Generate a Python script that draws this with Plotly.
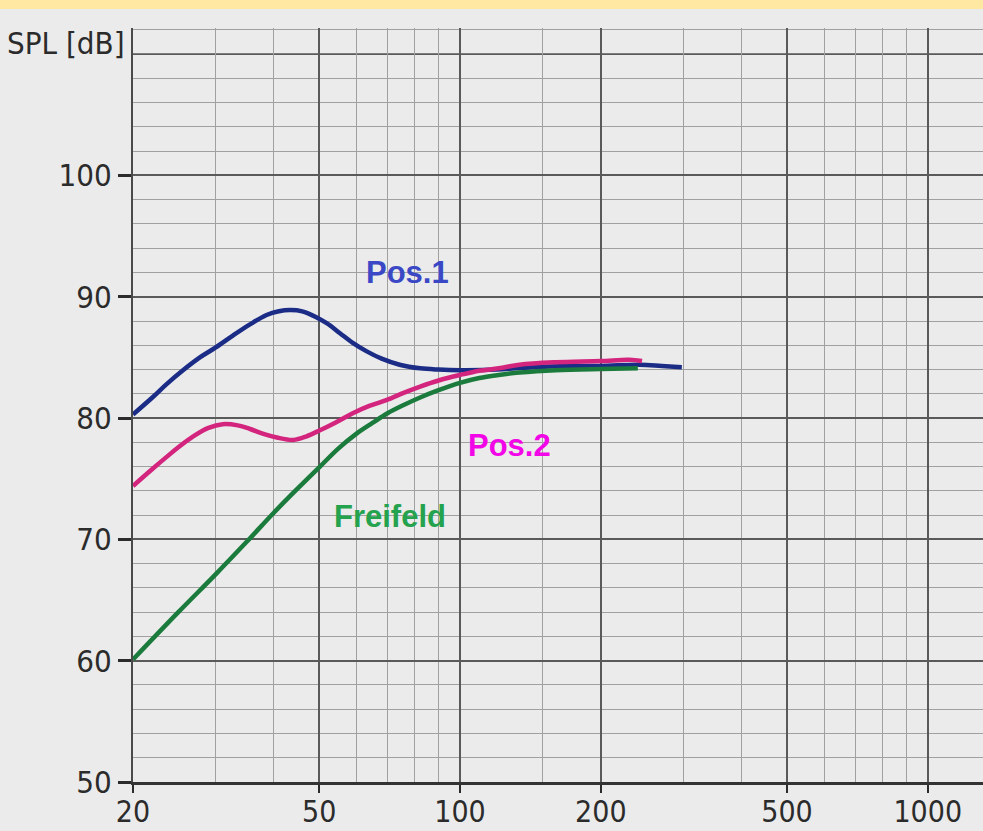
import math
import plotly.graph_objects as go

# ---- data ----
pos1_f = [20, 22, 23.6, 25.5, 27.8, 30, 32.7, 35.5, 38.6, 41, 43.3, 46, 49.4, 52, 55.4,
          59, 63.2, 68, 74.3, 82.2, 90, 100, 120, 143, 170, 200, 242, 270, 298]
pos1_db = [80.3, 81.7, 82.8, 83.9, 85.0, 85.8, 86.8, 87.7, 88.5, 88.8, 88.9, 88.8, 88.3, 87.8, 87.0,
           86.2, 85.5, 84.9, 84.4, 84.1, 84.0, 83.95, 84.0, 84.2, 84.3, 84.3, 84.4, 84.3, 84.2]

pos2_f = [20, 22, 23.6, 25, 26.9, 29, 31.1, 33.5, 35.6, 38, 40.6, 44, 47, 50.2, 54, 59, 64,
          69.8, 76, 82.2, 90, 100, 110, 121, 134, 160, 200, 230, 245]
pos2_db = [74.4, 75.8, 76.8, 77.6, 78.5, 79.2, 79.5, 79.4, 79.1, 78.7, 78.4, 78.2, 78.5, 79.0,
           79.6, 80.4, 81.0, 81.5, 82.1, 82.6, 83.1, 83.55, 83.9, 84.1, 84.4, 84.6, 84.7, 84.8, 84.7]

frei_f = [20, 25, 30, 35, 40, 45, 50.2, 55, 60, 65, 70, 76, 82.2, 90, 100,
          110, 121, 134, 160, 200, 240]
frei_db = [60.1, 64.0, 67.1, 69.8, 72.2, 74.2, 76.0, 77.5, 78.7, 79.6, 80.4, 81.1, 81.7, 82.3, 82.9,
           83.3, 83.55, 83.75, 83.95, 84.05, 84.1]

x_ticks = [20, 50, 100, 200, 500, 1000]
x_minor = [30, 40, 60, 70, 80, 90, 150, 300, 400, 600, 700, 800, 900]
y_ticks = [50, 60, 70, 80, 90, 100]
y_minor = [v for v in range(52, 113, 2) if v % 10 != 0]

labels = [("Pos.1", 77.1, 92.0, "#3A48C6"),
          ("Pos.2", 127.3, 77.7, "#F205E6"),
          ("Freifeld", 70.9, 71.85, "#24A24E")]

# ---- figure ----
W, H = 983, 831
ML, MT, MB = 133, 28, 49
plot_h = H - MT - MB
BG = "#EBEBEB"
MAJOR = "#5A5A5A"
MINOR = "#A0A0A0"
TXT = "#2B2B2B"
TICKFONT = "DejaVu Sans Condensed, Liberation Sans Narrow, Arial Narrow, sans-serif"

fig = go.Figure()
fig.add_trace(go.Scatter(x=pos1_f, y=pos1_db, mode="lines", line=dict(color="#1B2C86", width=4.5, shape="spline"),
                         name="Pos.1"))
fig.add_trace(go.Scatter(x=pos2_f, y=pos2_db, mode="lines", line=dict(color="#D4257E", width=4.5, shape="spline"),
                         name="Pos.2"))
fig.add_trace(go.Scatter(x=frei_f, y=frei_db, mode="lines", line=dict(color="#1B7B3C", width=4.5, shape="spline"),
                         name="Freifeld"))

x_lo = math.log10(20)
x_hi = x_lo + (W - ML) / 467.8
y_top = 112 + 1.9 / 12.13

fig.update_layout(
    width=W, height=H,
    margin=dict(l=ML, r=0, t=MT, b=MB, pad=0, autoexpand=False),
    paper_bgcolor=BG, plot_bgcolor=BG,
    showlegend=False,
    xaxis=dict(type="log", range=[x_lo, x_hi], automargin=False,
               tickmode="array", tickvals=x_ticks, ticktext=[str(v) for v in x_ticks],
               ticks="outside", ticklen=8, tickwidth=2, tickcolor=TXT,
               ticklabelstandoff=-7,
               showgrid=True, gridcolor=MAJOR, gridwidth=1.6,
               showline=True, linecolor="#333333", linewidth=2.5,
               zeroline=False,
               tickfont=dict(family=TICKFONT, size=30, color=TXT),
               minor=dict(tickmode="array", tickvals=x_minor, showgrid=True,
                          gridcolor=MINOR, gridwidth=1.2, ticks="")),
    yaxis=dict(range=[50, y_top], automargin=False,
               tickmode="array", tickvals=y_ticks, ticktext=[str(v) for v in y_ticks],
               ticks="outside", ticklen=13, tickwidth=2.5, tickcolor=TXT,
               showgrid=True, gridcolor=MAJOR, gridwidth=1.6,
               showline=True, linecolor="#4A4A4A", linewidth=2,
               zeroline=False,
               tickfont=dict(family=TICKFONT, size=31, color=TXT),
               minor=dict(tickmode="array", tickvals=y_minor, showgrid=True,
                          gridcolor=MINOR, gridwidth=1.2, ticks="")),
)

# dark grid line at 110 dB (no tick there)
fig.add_shape(type="line", xref="paper", yref="y", x0=0, x1=1, y0=110, y1=110,
              line=dict(color=MAJOR, width=1.6), layer="below")

# yellow band at the very top
fig.add_shape(type="rect", xref="paper", yref="paper",
              x0=-0.2, x1=1.05, y0=(H - MB - 9) / plot_h, y1=(H - MB + 5) / plot_h,
              fillcolor="#FFE8A2", line=dict(width=0), layer="above")

# axis title
fig.add_annotation(text="SPL [dB]", xref="paper", yref="paper",
                   x=(5 - ML) / (W - ML), y=(H - MB - 43) / plot_h,
                   xanchor="left", yanchor="middle", showarrow=False,
                   font=dict(family=TICKFONT, size=31, color=TXT))

for txt, fx, dby, col in labels:
    fig.add_annotation(text="<b>%s</b>" % txt, x=math.log10(fx), y=dby, xref="x", yref="y",
                       showarrow=False, xanchor="center", yanchor="middle",
                       font=dict(family="Liberation Sans, Arial, sans-serif", size=31, color=col))

fig.write_html("out.html", config={"displayModeBar": False},
               post_script="document.body.style.margin='0';document.body.style.overflow='hidden';")
